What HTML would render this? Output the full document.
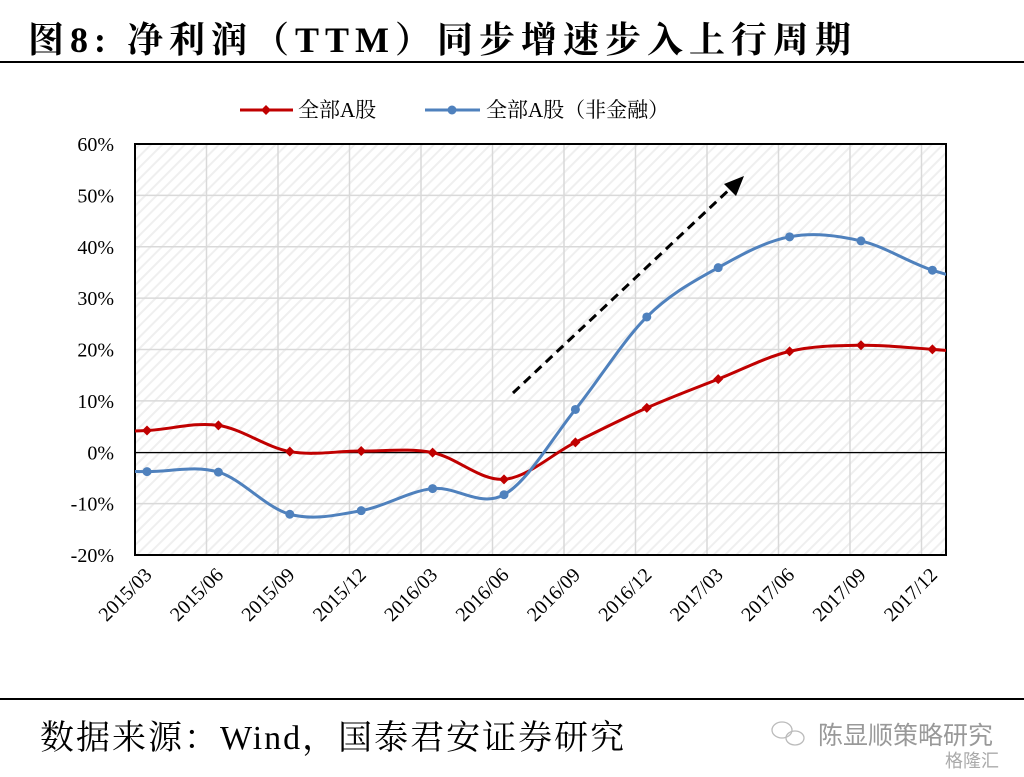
<!DOCTYPE html>
<html><head><meta charset="utf-8">
<style>
html,body{margin:0;padding:0;background:#fff;width:1024px;height:777px;overflow:hidden}
.t{position:absolute;left:28px;top:12px;font:bold 36px "Liberation Serif","Noto Serif CJK SC",serif;color:#000;letter-spacing:6px;white-space:nowrap}
.f{position:absolute;left:40px;top:710px;font:34px "Liberation Serif","Noto Serif CJK SC",serif;color:#000;letter-spacing:2px;white-space:nowrap}
.w{position:absolute;left:818px;top:716px;font:25px "Liberation Sans","Noto Sans CJK SC",sans-serif;color:#999}
.g{position:absolute;left:945px;top:747px;font:18px "Liberation Sans","Noto Sans CJK SC",sans-serif;color:#aaa}
</style></head><body>
<div class="t">图8: 净利润（TTM）同步增速步入上行周期</div>
<div style="position:absolute;left:0;top:61px;width:1024px;height:2px;background:#000"></div>
<div style="position:absolute;left:0;top:698px;width:1024px;height:2px;background:#000"></div>
<div class="f">数据来源：Wind，国泰君安证券研究</div>
<div class="w">陈显顺策略研究</div>
<div class="g">格隆汇</div>
<svg id="s" width="1024" height="777" style="position:absolute;left:0;top:0">
<defs>
<pattern id="h" width="8" height="8" patternUnits="userSpaceOnUse" patternTransform="rotate(45)">
<rect width="8" height="8" fill="#fff"/><rect width="2" height="8" fill="#efefef"/></pattern>
<clipPath id="c"><rect x="135" y="144" width="811" height="411"/></clipPath>
</defs>
<g fill="none" stroke="#bbb" stroke-width="1.3"><ellipse cx="782" cy="730" rx="10" ry="8"/><ellipse cx="795" cy="738" rx="9" ry="7"/></g>
</svg>
<script>
var s=document.getElementById('s'),h='';
var L=135,T=144,R=946,B=555;function Y(v){return 452.6-v*5.1375;}
h+='<rect x="135" y="144" width="811" height="411" fill="url(#h)"/>';
for(var i=0;i<9;i++){var y=T+i*51.375;h+='<line x1="135" x2="946" y1="'+y+'" y2="'+y+'" stroke="#d9d9d9" stroke-width="1.5"/>';
h+='<text x="114" y="'+(y+7)+'" text-anchor="end" font-family="Liberation Serif" font-size="20">'+(60-i*10)+'%</text>';}
for(var i=1;i<12;i++){var x=135+i*71.5;h+='<line y1="144" y2="555" x1="'+x+'" x2="'+x+'" stroke="#d9d9d9" stroke-width="1.5"/>';}
h+='<line x1="135" x2="946" y1="452.6" y2="452.6" stroke="#000" stroke-width="1.2"/>';
h+='<rect x="135" y="144" width="811" height="411" fill="none" stroke="#000" stroke-width="2"/>';
var lab=['2015/03','2015/06','2015/09','2015/12','2016/03','2016/06','2016/09','2016/12','2017/03','2017/06','2017/09','2017/12'];
var px=[];for(var i=0;i<12;i++)px.push(147+i*71.4);
for(var i=0;i<12;i++){var x=px[i]+6,y=576;h+='<text transform="translate('+x+','+y+') rotate(-45)" text-anchor="end" font-family="Liberation Serif" font-size="20">'+lab[i]+'</text>';}
function path(pts){var d='M'+pts[0][0]+','+pts[0][1];for(var i=0;i<pts.length-1;i++){var p0=pts[Math.max(i-1,0)],p1=pts[i],p2=pts[i+1],p3=pts[Math.min(i+2,pts.length-1)];
d+=' C'+(p1[0]+(p2[0]-p0[0])/6)+','+(p1[1]+(p2[1]-p0[1])/6)+' '+(p2[0]-(p3[0]-p1[0])/6)+','+(p2[1]-(p3[1]-p1[1])/6)+' '+p2[0]+','+p2[1];}return d;}
var red=[4.3,5.3,0.2,0.3,0,-5.2,2,8.7,14.3,19.7,20.9,20.1],blue=[-3.7,-3.8,-12,-11.3,-7,-8.2,8.4,26.4,36,42,41.2,35.5];
function ser(v,l,r,col,mk){var pts=[[px[0]-71.4,Y(l)]];for(var i=0;i<12;i++)pts.push([px[i],Y(v[i])]);pts.push([px[11]+71.4,Y(r)]);
h+='<path clip-path="url(#c)" d="'+path(pts)+'" fill="none" stroke="'+col+'" stroke-width="3"/>';
for(var i=0;i<12;i++){var x=px[i],y=Y(v[i]);h+=mk=='d'?'<path d="M'+x+','+(y-5)+' L'+(x+5)+','+y+' L'+x+','+(y+5)+' L'+(x-5)+','+y+'z" fill="'+col+'"/>':'<circle cx="'+x+'" cy="'+y+'" r="4.5" fill="'+col+'"/>';}}
ser(red,3.9,19.0,'#c00000','d');ser(blue,-3.5,32,'#4f81bd','c');
h+='<line x1="513" y1="393" x2="732" y2="187" stroke="#000" stroke-width="3" stroke-dasharray="9,6"/>';
h+='<polygon points="744,176 724,184 736,196" fill="#000"/>';
h+='<line x1="240" x2="293" y1="110" y2="110" stroke="#c00000" stroke-width="3"/><path d="M266,105 L271,110 L266,115 L261,110z" fill="#c00000"/>';
h+='<text x="298" y="117" font-family="Liberation Serif,Noto Serif CJK SC,serif" font-size="21">全部A股</text>';
h+='<line x1="425" x2="480" y1="110" y2="110" stroke="#4f81bd" stroke-width="3"/><circle cx="452" cy="110" r="4.5" fill="#4f81bd"/>';
h+='<text x="486" y="117" font-family="Liberation Serif,Noto Serif CJK SC,serif" font-size="21">全部A股（非金融）</text>';
s.innerHTML+=h;
</script>
</body></html>
